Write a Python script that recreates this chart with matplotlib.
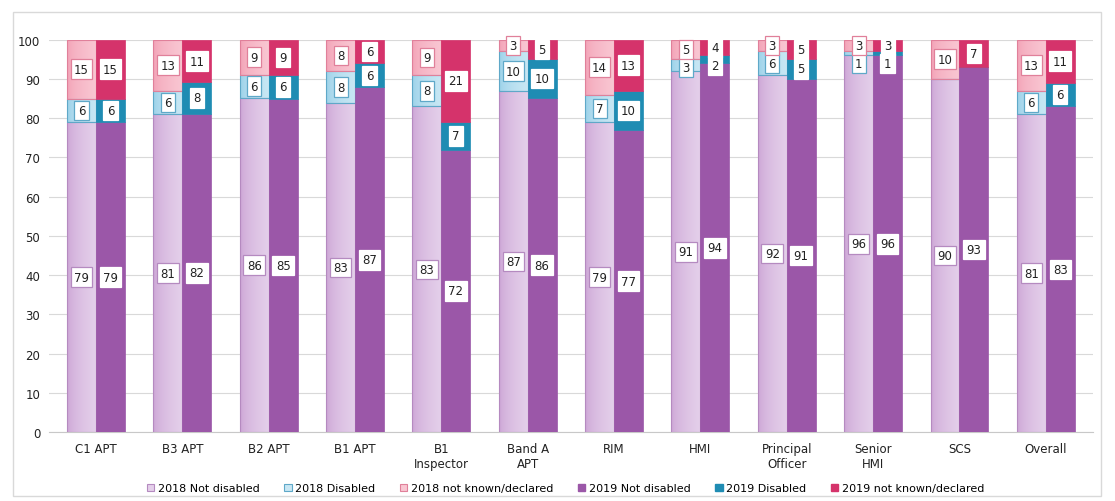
import numpy as np
import matplotlib.pyplot as plt
from matplotlib.patches import Patch, Rectangle

categories = ["C1 APT", "B3 APT", "B2 APT", "B1 APT", "B1\nInspector", "Band A\nAPT",
              "RIM", "HMI", "Principal\nOfficer", "Senior\nHMI", "SCS", "Overall"]

nd_2018 = [79, 81, 86, 83, 83, 87, 79, 91, 92, 96, 90, 81]
dis_2018 = [6, 6, 6, 8, 8, 10, 7, 3, 6, 1, 0, 6]
nk_2018 = [15, 13, 9, 8, 9, 3, 14, 5, 3, 3, 10, 13]

nd_2019 = [79, 82, 85, 87, 72, 86, 77, 94, 91, 96, 93, 83]
dis_2019 = [6, 8, 6, 6, 7, 10, 10, 2, 5, 1, 0, 6]
nk_2019 = [15, 11, 9, 6, 21, 5, 13, 4, 5, 3, 7, 11]

series_names = ["2018 Not disabled", "2018 Disabled", "2018 not known/declared",
                "2019 Not disabled", "2019 Disabled", "2019 not known/declared"]

# (dark, light) pairs for the 2018 gradient bars, solid for 2019
col_2018 = [("#c99fd3", "#e4cfea"), ("#94cee7", "#c8e7f4"), ("#f29db2", "#f9c6d2")]
edge_2018 = ["#b58ac0", "#5fa8c8", "#e0809a"]
col_2019 = ["#9b57a8", "#1f8cb3", "#d5336b"]

fig = plt.figure(figsize=(11.15, 5.02), dpi=100)
fig.patches.append(Rectangle((0.012, 0.01), 0.975, 0.965, transform=fig.transFigure,
                             fill=False, edgecolor="#d9d9d9", lw=1))
ax = fig.add_axes([0.0435, 0.137, 0.937, 0.782])

x = np.arange(len(categories))
w = 0.335
grad = np.sqrt(np.linspace(0, 1, 64)).reshape(1, -1)


def hex2rgb(h):
    h = h.lstrip("#")
    return np.array([int(h[i:i + 2], 16) / 255 for i in (0, 2, 4)])


def place_labels(bottoms, heights):
    # segment centres, nudged apart when they would overlap
    ys = [b + h / 2 for b, h in zip(bottoms, heights)]
    for i in range(len(ys) - 2, -1, -1):
        if heights[i] > 0 and ys[i + 1] - ys[i] < 4.6:
            ys[i] = ys[i + 1] - 4.6
    return ys


for year, data, xpos in [(2018, [nd_2018, dis_2018, nk_2018], x - w / 2),
                         (2019, [nd_2019, dis_2019, nk_2019], x + w / 2)]:
    arr = np.array(data, dtype=float)
    scaled = arr / arr.sum(axis=0) * 100
    bottom = np.zeros(len(categories))
    bots = []
    for k in range(3):
        bots.append(bottom.copy())
        if year == 2018:
            bars = ax.bar(xpos, scaled[k], w, bottom=bottom, color="none",
                          edgecolor=edge_2018[k], lw=0.8, zorder=3)
            c0, c1 = hex2rgb(col_2018[k][0]), hex2rgb(col_2018[k][1])
            img = c0 + (c1 - c0) * grad[..., None]
            for b in bars:
                if b.get_height() <= 0:
                    continue
                im = ax.imshow(img, extent=(b.get_x(), b.get_x() + b.get_width(),
                                            b.get_y(), b.get_y() + b.get_height()),
                               aspect="auto", zorder=2.5, interpolation="bilinear")
                im.set_clip_path(b)
        else:
            ax.bar(xpos, scaled[k], w, bottom=bottom, color=col_2019[k],
                   edgecolor=col_2019[k], lw=0.5, zorder=3)
        bottom = bottom + scaled[k]

    for j in range(len(categories)):
        hs = [scaled[k][j] for k in range(3)]
        bs = [bots[k][j] for k in range(3)]
        ys = place_labels(bs, hs)
        for k in range(3):
            if arr[k][j] <= 0:
                continue
            ec = edge_2018[k] if year == 2018 else "white"
            ax.text(xpos[j], ys[k], f"{int(arr[k][j])}", ha="center", va="center",
                    fontsize=8.5, color="#222222", zorder=5,
                    bbox=dict(boxstyle="square,pad=0.28", fc="white", ec=ec, lw=0.9))

ax.set_ylim(0, 100)
ax.set_xlim(-0.55, len(categories) - 0.45)
ax.set_yticks(range(0, 101, 10))
ax.set_xticks(x)
ax.set_xticklabels(categories)
ax.tick_params(axis="both", length=0, labelsize=8.5, colors="#222222")
ax.tick_params(axis="x", pad=7)
ax.tick_params(axis="y", pad=6)
ax.yaxis.grid(True, color="#d9d9d9", lw=0.8, zorder=0)
ax.set_axisbelow(True)
for s in ["top", "right", "left"]:
    ax.spines[s].set_visible(False)
ax.spines["bottom"].set_color("#c8c8c8")

handles = []
for k in range(3):
    handles.append(Patch(facecolor=col_2018[k][1], edgecolor=edge_2018[k], lw=0.8))
for k in range(3):
    handles.append(Patch(facecolor=col_2019[k], edgecolor=col_2019[k]))
fig.legend(handles, series_names, loc="center", ncol=6, frameon=False,
           bbox_to_anchor=(0.507, 0.025), fontsize=8, handlelength=0.7,
           handleheight=0.7, handletextpad=0.3, columnspacing=2.2, borderpad=0)

fig.savefig("out.png", dpi=100)
